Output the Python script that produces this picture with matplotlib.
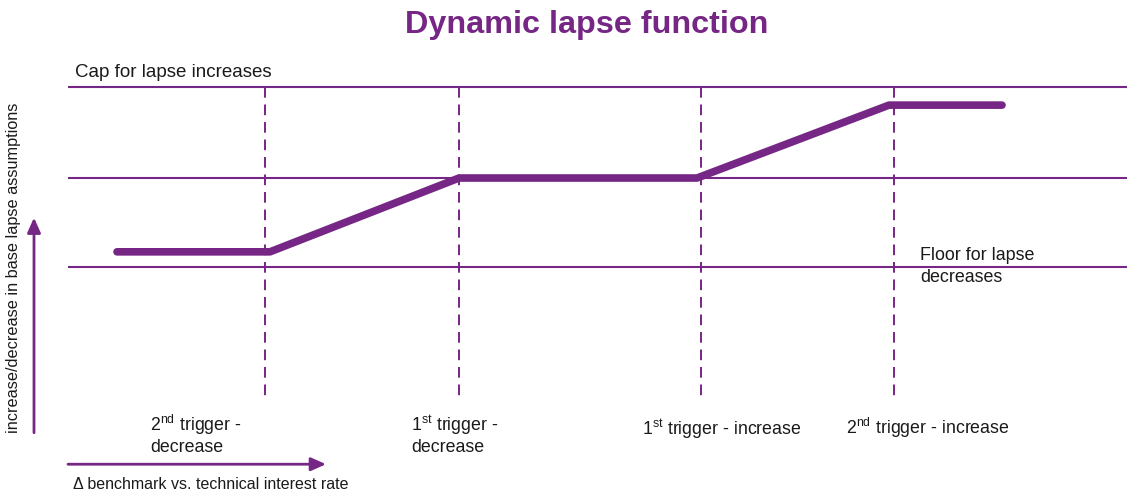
import matplotlib
matplotlib.use("Agg")
import matplotlib.pyplot as plt

plt.rcParams["font.family"] = ["Liberation Sans", "DejaVu Sans"]
plt.rcParams["mathtext.fontset"] = "custom"
plt.rcParams["mathtext.rm"] = "Liberation Sans"
plt.rcParams["mathtext.it"] = "Liberation Sans:italic"

PURPLE = "#762684"
TEXT = "#1a1a1a"

# Lapse adjustment path (x: spread between benchmark and technical rate, y: change in lapse)
path_x = [-4.63, -3.10, -1.21, 1.17, 3.09, 4.22]
path_y = [-0.82, -0.82, 0.0, 0.0, 0.81, 0.81]

# Reference levels: cap, base, floor
levels = [1.01, 0.0, -0.99]

# Trigger positions and labels
trigger_x = [-3.15, -1.21, 1.21, 3.14]
trigger_labels = [
    "2$^{\\mathrm{nd}}$ trigger -\ndecrease",
    "1$^{\\mathrm{st}}$ trigger -\ndecrease",
    "1$^{\\mathrm{st}}$ trigger - increase",
    "2$^{\\mathrm{nd}}$ trigger - increase",
]
label_pos = [(-4.30, -2.85), (-1.69, -2.85), (0.62, -2.79), (2.66, -2.78)]

fig = plt.figure(figsize=(11.29, 4.95), dpi=100)
ax = fig.add_axes([0, 0, 1, 1])
ax.set_xlim(-5.80, 5.49)
ax.set_ylim(-3.522, 1.978)
ax.axis("off")

for lv in levels:
    ax.plot([-5.12, 5.47], [lv, lv], color=PURPLE, lw=1.5, solid_capstyle="butt")

for tx in trigger_x:
    ax.plot([tx, tx], [1.01, -2.44], color=PURPLE, lw=1.4, ls=(0, (5.5, 3.5)))

ax.plot(path_x, path_y, color=PURPLE, lw=5.5, solid_capstyle="round",
        solid_joinstyle="round")

for lab, (lx, ly) in zip(trigger_labels, label_pos):
    ax.text(lx, ly, lab, fontsize=12.8, color=TEXT, ha="left", va="center",
            linespacing=1.12)

ax.text(-5.05, 1.17, "Cap for lapse increases", fontsize=13.5, color=TEXT,
        ha="left", va="center")
ax.text(3.40, -0.98, "Floor for lapse\ndecreases", fontsize=12.9, color=TEXT,
        ha="left", va="center", linespacing=1.4)

ax.text(0.52, 0.95, "Dynamic lapse function", transform=ax.transAxes,
        fontsize=23.3, fontweight="bold", color=PURPLE, ha="center", va="center")

# Axis arrows
ax.annotate("", xy=(-2.54, -3.18), xytext=(-5.12, -3.18),
            arrowprops=dict(arrowstyle="-|>,head_length=0.9,head_width=0.4",
                            color=PURPLE, lw=2, shrinkA=0, shrinkB=0))
ax.annotate("", xy=(-5.46, -0.44), xytext=(-5.46, -2.83),
            arrowprops=dict(arrowstyle="-|>,head_length=0.9,head_width=0.4",
                            color=PURPLE, lw=2, shrinkA=0, shrinkB=0))

ax.text(-5.07, -3.40, "\u0394 benchmark vs. technical interest rate",
        fontsize=11.5, color=TEXT, ha="left", va="center")
ax.text(-5.66, -1.0, "increase/decrease in base lapse assumptions",
        fontsize=11.7, color=TEXT, ha="center", va="center", rotation=90)

fig.savefig("out.png", dpi=100)
